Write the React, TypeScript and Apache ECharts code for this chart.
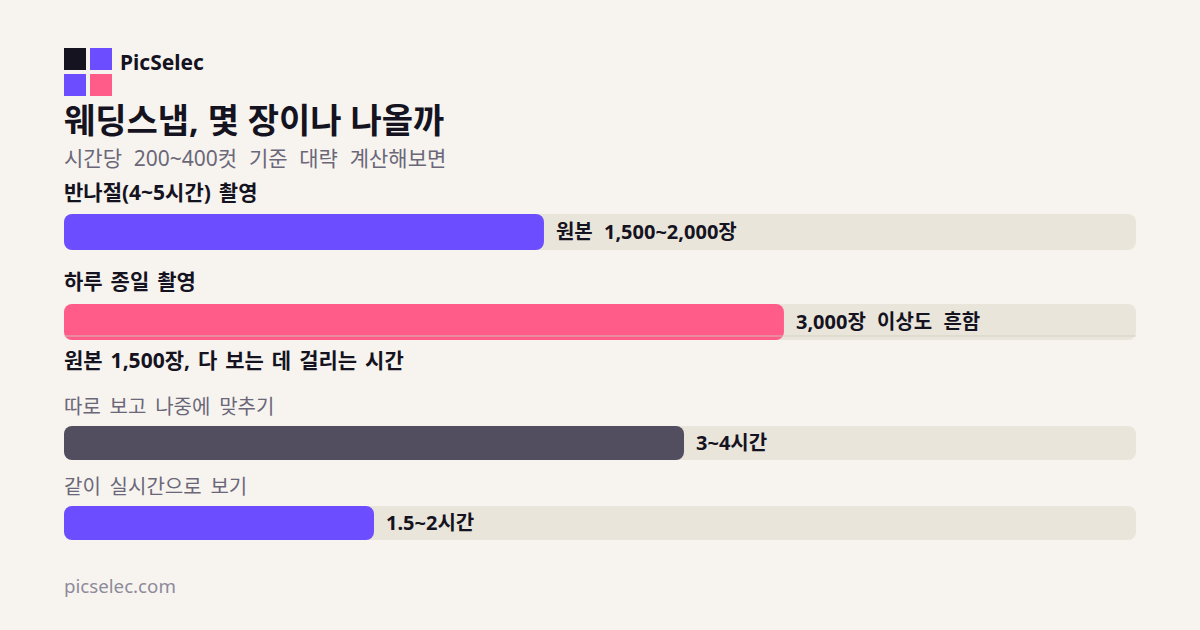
import { useEffect, useRef } from 'react';
import * as echarts from 'echarts';

const FONT = '"Noto Sans", "Noto Sans CJK KR", sans-serif';

const BRAND = 'PicSelec';
const TITLE = '웨딩스냅, 몇 장이나 나올까';
const SUBTITLE = '시간당 200~400컷 기준 대략 계산해보면';
const SECTION_TITLE = '원본 1,500장, 다 보는 데 걸리는 시간';
const FOOTER = 'picselec.com';

const shotCategories = ['반나절(4~5시간) 촬영', '하루 종일 촬영'];
const shotValues = [2000, 3000];
const shotLabels = ['원본 1,500~2,000장', '3,000장 이상도 흔함'];
const shotColors = ['#6c4dff', '#ff5c8a'];

const hourCategories = ['따로 보고 나중에 맞추기', '같이 실시간으로 보기'];
const hourValues = [4, 2];
const hourLabels = ['3~4시간', '1.5~2시간'];
const hourColors = ['#524e5f', '#6c4dff'];

const logoColors = ['#15131f', '#6c4dff', '#6c4dff', '#ff5c8a'];

// the word gaps in the picture are wider than the font's own space
const TEXT_CSS = `
svg text { word-spacing: 0.3em; }
svg text[style*="34px"] { word-spacing: 0; }
svg text[style*="21px"][style*="700"] { word-spacing: 0.12em; }
svg text[style*="20px"]:not([style*="700"]) { word-spacing: 0.18em; }
`;

const text = (x: number, y: number, value: string, size: number, weight: number, fill: string) => ({
  type: 'text',
  x,
  y,
  style: { text: value, fontFamily: FONT, fontSize: size, fontWeight: weight, fill, textVerticalAlign: 'middle' },
});

const barSeries = (index: number, values: number[], labels: string[], colors: string[], width: number) => ({
  type: 'bar',
  xAxisIndex: index,
  yAxisIndex: index,
  barWidth: width,
  showBackground: true,
  backgroundStyle: { color: '#e9e5da', borderRadius: 8 },
  itemStyle: { borderRadius: 8 },
  label: {
    show: true,
    position: 'right',
    distance: 12,
    offset: [0, -1],
    fontFamily: FONT,
    fontSize: 20,
    fontWeight: 700,
    color: '#15131f',
    formatter: (p: any) => labels[p.dataIndex],
  },
  data: values.map((value, i) => ({ value, itemStyle: { color: colors[i] } })),
  silent: true,
});

export default function App() {
  const chartRef = useRef<HTMLDivElement>(null);

  useEffect(() => {
    if (!chartRef.current) return;
    const chart = echarts.init(chartRef.current, undefined, { renderer: 'svg' });

    const hiddenX = (gridIndex: number, max: number) => ({
      type: 'value',
      gridIndex,
      min: 0,
      max,
      show: false,
    });
    const hiddenY = (gridIndex: number, data: string[]) => ({
      type: 'category',
      gridIndex,
      data,
      inverse: true,
      show: false,
    });

    chart.setOption({
      animation: false,
      backgroundColor: '#f7f4ef',
      // one grid per unit: shots on top, hours below
      grid: [
        { left: 64, width: 1072, top: 187, height: 180 },
        { left: 64, width: 1072, top: 403, height: 160 },
      ],
      xAxis: [hiddenX(0, 4467), hiddenX(1, 6.916)],
      yAxis: [hiddenY(0, shotCategories), hiddenY(1, hourCategories)],
      series: [
        barSeries(0, shotValues, shotLabels, shotColors, 36),
        barSeries(1, hourValues, hourLabels, hourColors, 34),
      ],
      graphic: [
        { type: 'rect', shape: { x: 64, y: 48, width: 22, height: 22 }, style: { fill: logoColors[0] } },
        { type: 'rect', shape: { x: 90, y: 48, width: 22, height: 22 }, style: { fill: logoColors[1] } },
        { type: 'rect', shape: { x: 64, y: 74, width: 22, height: 22 }, style: { fill: logoColors[2] } },
        { type: 'rect', shape: { x: 90, y: 74, width: 22, height: 22 }, style: { fill: logoColors[3] } },
        text(120, 62, BRAND, 21, 700, '#15131f'),
        text(64, 120, TITLE, 34, 700, '#15131f'),
        text(64, 158, SUBTITLE, 21, 400, '#6b6779'),
        text(64, 192, shotCategories[0], 21, 700, '#15131f'),
        text(64, 281, shotCategories[1], 21, 700, '#15131f'),
        { type: 'rect', shape: { x: 64, y: 335, width: 1072, height: 2 }, style: { fill: 'rgba(205,205,190,0.4)' }, z: 10 },
        text(64, 360, SECTION_TITLE, 21, 700, '#15131f'),
        text(64, 406, hourCategories[0], 20, 400, '#6b6779'),
        text(64, 486, hourCategories[1], 20, 400, '#6b6779'),
        text(64, 585, FOOTER, 18.7, 400, '#8d8a9a'),
      ],
    });

    return () => chart.dispose();
  }, []);

  return (
    <>
      <style>{TEXT_CSS}</style>
      <div ref={chartRef} style={{ position: 'fixed', left: 0, top: 0, width: 1200, height: 630 }} />
    </>
  );
}
